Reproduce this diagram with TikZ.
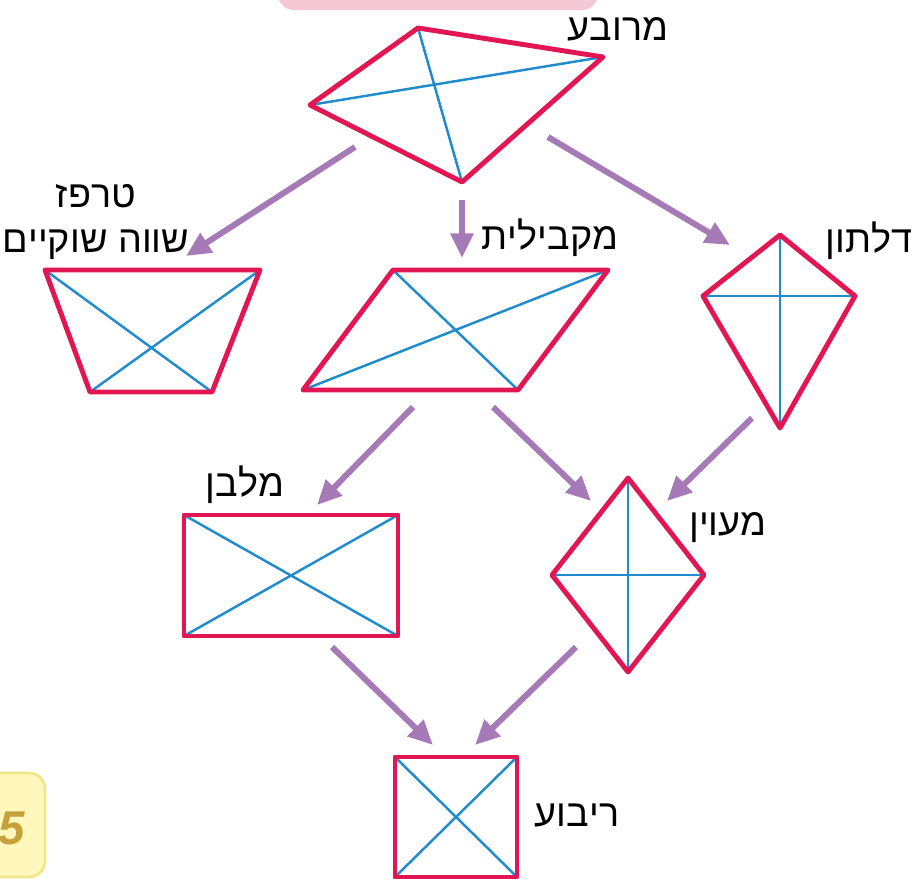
\documentclass[tikz,border=0pt]{standalone}
\usepackage{fontspec}
\setmainfont{Liberation Sans}
\usetikzlibrary{arrows.meta}
\TeXXeTstate=1
\definecolor{edgered}{RGB}{226,22,82}
\definecolor{diagblue}{RGB}{32,140,205}
\definecolor{arrowpurple}{RGB}{166,122,182}
\definecolor{barpink}{RGB}{245,200,213}
\definecolor{tabyellow}{RGB}{255,247,188}
\definecolor{tabedge}{RGB}{242,230,135}
\definecolor{tabgold}{RGB}{198,160,58}
\newcommand{\heb}[1]{\beginR #1\endR}

\begin{document}
\begin{tikzpicture}[x=0.02cm, y=-0.02cm]
    \tikzstyle{outline} = [draw=edgered, line width=2.8pt, line join=round]
    \tikzstyle{diag} = [draw=diagblue, line width=1.4pt]
    \tikzstyle{line} = [draw=arrowpurple, line width=3.4pt, -{Triangle[length=14pt, width=12.5pt]}]
    \tikzstyle{shapename} = [font=\fontsize{21.5}{26}\selectfont, align=center, inner sep=0pt]

    \clip (0,0) rectangle (912,879);

    % title bar and page tab
    \fill [barpink, rounded corners=9] (278,-20) rectangle (598,10);
    \draw [tabedge, fill=tabyellow, rounded corners=9, line width=1.5pt] (-20,773) rectangle (45,877);
    \node [font=\fontsize{27}{30}\selectfont\bfseries\itshape, text=tabgold] (page) at (12,828) {5};

    % quadrilateral
    \coordinate (qt) at (418,28);
    \coordinate (qr) at (603,57);
    \coordinate (qb) at (462,182);
    \coordinate (ql) at (310,105);
    \draw [diag] (qt) -- (qb) (ql) -- (qr);
    \draw [outline] (qt) -- (qr) -- (qb) -- (ql) -- cycle;
    \node [shapename] (quad) at (618,29) {\heb{מרובע}};

    % isosceles trapezoid
    \coordinate (ta) at (45,270);
    \coordinate (tb) at (260,270);
    \coordinate (tc) at (212,392);
    \coordinate (td) at (90,392);
    \draw [diag] (ta) -- (tc) (tb) -- (td);
    \draw [outline] (ta) -- (tb) -- (tc) -- (td) -- cycle;
    \node [shapename] (trap) at (96,222) {\heb{טרפז}\\\heb{שווה שוקיים}};

    % parallelogram
    \coordinate (pa) at (393,270);
    \coordinate (pb) at (608,270);
    \coordinate (pc) at (518,390);
    \coordinate (pd) at (303,390);
    \draw [diag] (pa) -- (pc) (pb) -- (pd);
    \draw [outline] (pa) -- (pb) -- (pc) -- (pd) -- cycle;
    \node [shapename] (para) at (550,238) {\heb{מקבילית}};

    % kite
    \coordinate (kt) at (780,235);
    \coordinate (kr) at (855,296);
    \coordinate (kb) at (780,428);
    \coordinate (kl) at (703,296);
    \draw [diag] (kt) -- (kb) (kl) -- (kr);
    \draw [outline] (kt) -- (kr) -- (kb) -- (kl) -- cycle;
    \node [shapename] (kite) at (869,241) {\heb{דלתון}};

    % rectangle
    \coordinate (ra) at (184,515);
    \coordinate (rb) at (398,515);
    \coordinate (rc) at (398,636);
    \coordinate (rd) at (184,636);
    \draw [diag] (ra) -- (rc) (rb) -- (rd);
    \draw [outline] (ra) -- (rb) -- (rc) -- (rd) -- cycle;
    \node [shapename] (rect) at (245,485) {\heb{מלבן}};

    % rhombus
    \coordinate (ht) at (628,478);
    \coordinate (hr) at (704,575);
    \coordinate (hb) at (628,672);
    \coordinate (hl) at (552,575);
    \draw [diag] (ht) -- (hb) (hl) -- (hr);
    \draw [outline] (ht) -- (hr) -- (hb) -- (hl) -- cycle;
    \node [shapename] (rhomb) at (728,528) {\heb{מעוין}};

    % square
    \coordinate (sa) at (395,757);
    \coordinate (sb) at (517,757);
    \coordinate (sc) at (517,877);
    \coordinate (sd) at (395,877);
    \draw [diag] (sa) -- (sc) (sb) -- (sd);
    \draw [outline] (sa) -- (sb) -- (sc) -- (sd) -- cycle;
    \node [shapename] (square) at (577,815) {\heb{ריבוע}};

    % arrow ends
    \coordinate (a1) at (355,147);  \coordinate (b1) at (186,256);
    \coordinate (a2) at (462,200);  \coordinate (b2) at (462,258);
    \coordinate (a3) at (548,137);  \coordinate (b3) at (730,245);
    \coordinate (a4) at (413,407);  \coordinate (b4) at (317,505);
    \coordinate (a5) at (493,407);  \coordinate (b5) at (591,501);
    \coordinate (a6) at (752,418);  \coordinate (b6) at (667,501);
    \coordinate (a7) at (332,647);  \coordinate (b7) at (433,745);
    \coordinate (a8) at (576,647);  \coordinate (b8) at (475,745);

    \foreach \i in {1,...,8}
        \draw [line] (a\i) -- (b\i);
\end{tikzpicture}
\end{document}
